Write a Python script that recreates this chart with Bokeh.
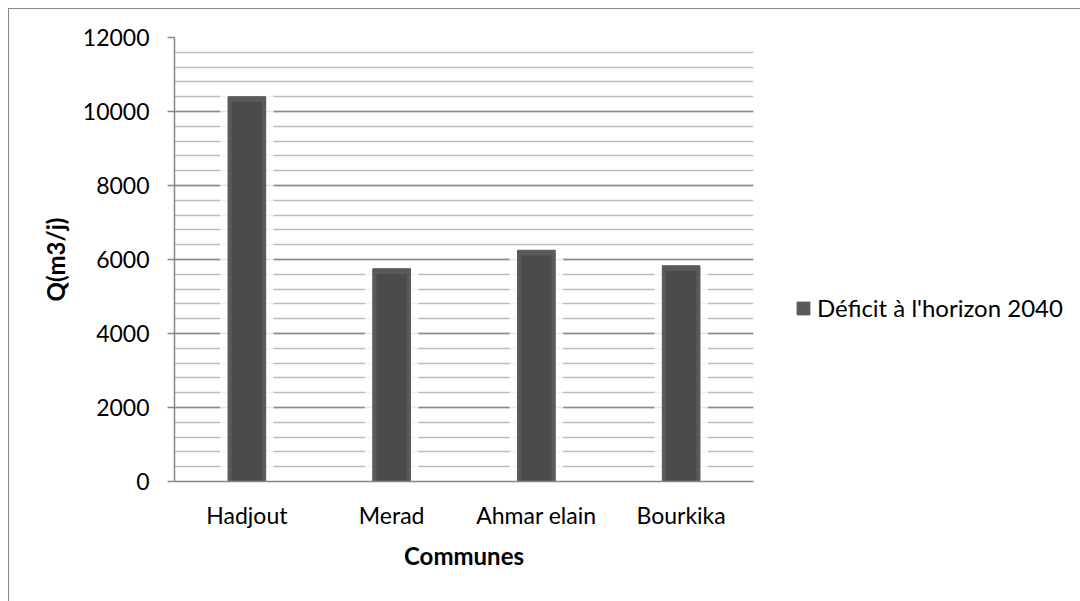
from bokeh.plotting import figure
from bokeh.models import (FactorRange, Range1d, SingleIntervalTicker, Legend,
                          LegendItem)
from bokeh.embed import file_html
from bokeh.resources import INLINE

# Water deficit per commune (m3/day) at the 2040 horizon
communes = ["Hadjout", "Merad", "Ahmar elain", "Bourkika"]
deficit_2040 = [10400, 5750, 6250, 5830]
series_name = "Déficit à l'horizon 2040"

FONT = "Lato"
GRID_MAJOR = "#8c8c8c"
GRID_MINOR = "#bdbdbd"

p = figure(
    x_range=FactorRange(*communes),
    y_range=Range1d(0, 12000),
    frame_width=579, frame_height=444,
    output_backend="svg", toolbar_location=None,
    min_border_left=165, min_border_right=328,
    min_border_top=28, min_border_bottom=121,
)
p.margin = (8, 0, 0, 8)
p.styles = {"border-left": "1px solid #8a8a8a", "border-top": "1px solid #8a8a8a"}
p.outline_line_color = None
p.background_fill_color = "white"
p.border_fill_color = "white"

# Axes
p.yaxis.ticker = SingleIntervalTicker(interval=2000, num_minor_ticks=5)
for ax in (p.xaxis[0], p.yaxis[0]):
    ax.axis_line_color = "#868686"
    ax.axis_line_width = 1.5
    ax.major_label_text_font = FONT
    ax.major_label_text_font_size = "23px"
    ax.major_label_text_color = "#000000"
    ax.axis_label_text_font = FONT
    ax.axis_label_text_font_size = "24px"
    ax.axis_label_text_font_style = "bold"
    ax.axis_label_text_color = "#000000"
    ax.minor_tick_line_color = None

p.yaxis.major_tick_line_color = "#868686"
p.yaxis.major_tick_line_width = 1.5
p.yaxis.major_tick_out = 7
p.yaxis.major_tick_in = 0
p.yaxis.major_label_standoff = 18
p.yaxis.axis_label = "Q(m3/j)"
p.yaxis.axis_label_standoff = 10

p.xaxis.major_tick_line_color = None
p.xaxis.major_label_standoff = 13
p.xaxis.axis_label = "Communes"
p.xaxis.axis_label_standoff = 9

# Grid: darker major lines every 2000, light minor lines every 400
p.xgrid.grid_line_color = None
p.ygrid.grid_line_color = GRID_MAJOR
p.ygrid.grid_line_width = 1.5
p.ygrid.minor_grid_line_color = GRID_MINOR
p.ygrid.minor_grid_line_width = 1.5

# Soft white halo behind each column
p.vbar(x=communes, top=[v + 60 for v in deficit_2040], width=0.37, bottom=0,
       fill_color="white", fill_alpha=0.8, line_color=None)
# Column body with a slightly lighter rim and a darker core
bars = p.vbar(x=communes, top=deficit_2040, width=0.26, bottom=0,
              fill_color="#5a5a5a", line_color="#555555", line_width=1)
p.vbar(x=communes, top=[v - 140 for v in deficit_2040], width=0.21, bottom=0,
       fill_color="#4b4b4b", line_color=None)

legend = Legend(
    items=[LegendItem(label=series_name, renderers=[bars])],
    location=(42, 159),
    orientation="vertical",
    padding=0, margin=0, spacing=0,
    border_line_color=None, background_fill_alpha=0,
    glyph_width=16, glyph_height=16, label_standoff=6,
    label_text_font=FONT, label_text_font_size="24px",
    label_text_color="#000000",
)
p.add_layout(legend, "right")

open("out.html", "w").write(file_html(p, INLINE))
